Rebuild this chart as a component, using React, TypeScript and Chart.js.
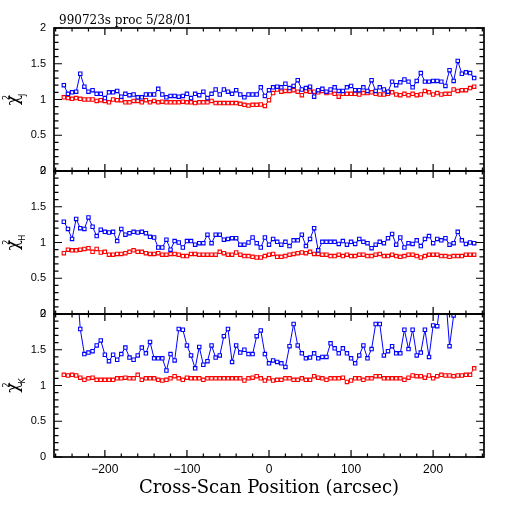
import React, { useEffect, useRef } from "react";
import { Chart, registerables } from "chart.js";
Chart.register(...registerables);

const xPositions = [
  -250, -245, -240, -235, -230, -225, -220, -215, -210, -205,
  -200, -195, -190, -185, -180, -175, -170, -165, -160, -155,
  -150, -145, -140, -135, -130, -125, -120, -115, -110, -105,
  -100, -95, -90, -85, -80, -75, -70, -65, -60, -55,
  -50, -45, -40, -35, -30, -25, -20, -15, -10, -5,
  0, 5, 10, 15, 20, 25, 30, 35, 40, 45,
  50, 55, 60, 65, 70, 75, 80, 85, 90, 95,
  100, 105, 110, 115, 120, 125, 130, 135, 140, 145,
  150, 155, 160, 165, 170, 175, 180, 185, 190, 195,
  200, 205, 210, 215, 220, 225, 230, 235, 240, 245,
  250,
];

const jBlue = [
  1.20, 1.08, 1.10, 1.11, 1.36, 1.18, 1.11, 1.13, 1.08, 1.08,
  1.02, 1.10, 1.10, 1.12, 1.04, 1.08, 1.06, 1.07, 1.03, 1.03,
  1.07, 1.07, 1.07, 1.15, 1.07, 1.03, 1.05, 1.05, 1.04, 1.05,
  1.08, 1.02, 1.08, 1.06, 1.11, 1.02, 1.08, 1.14, 1.07, 1.14,
  1.11, 1.08, 1.13, 1.07, 1.03, 1.07, 1.07, 1.07, 1.17, 1.05,
  1.13, 1.17, 1.18, 1.17, 1.22, 1.16, 1.19, 1.27, 1.14, 1.16,
  1.18, 1.04, 1.13, 1.15, 1.11, 1.14, 1.17, 1.12, 1.12, 1.17,
  1.19, 1.13, 1.13, 1.17, 1.12, 1.27, 1.12, 1.17, 1.14, 1.11,
  1.25, 1.20, 1.24, 1.28, 1.25, 1.17, 1.26, 1.37, 1.25, 1.25,
  1.26, 1.26, 1.25, 1.19, 1.41, 1.26, 1.54, 1.36, 1.38, 1.37,
  1.30,
];
const jRed = [
  1.03, 1.02, 1.01, 1.02, 1.01, 1.00, 1.00, 1.00, 0.98, 0.99,
  0.98, 0.96, 1.00, 0.99, 0.99, 0.96, 0.96, 0.98, 0.98, 0.96,
  0.99, 0.96, 0.98, 0.96, 0.97, 0.96, 0.96, 0.96, 0.96, 0.97,
  0.96, 0.96, 0.95, 0.96, 0.96, 0.96, 0.98, 0.95, 0.95, 0.95,
  0.95, 0.95, 0.95, 0.94, 0.925, 0.915, 0.925, 0.925, 0.93, 0.91,
  0.99, 1.09, 1.14, 1.11, 1.12, 1.12, 1.13, 1.11, 1.06, 1.12,
  1.11, 1.11, 1.10, 1.12, 1.09, 1.10, 1.08, 1.04, 1.08, 1.08,
  1.08, 1.08, 1.07, 1.09, 1.09, 1.10, 1.08, 1.07, 1.07, 1.08,
  1.10, 1.07, 1.06, 1.08, 1.06, 1.08, 1.06, 1.07, 1.12, 1.10,
  1.07, 1.09, 1.07, 1.08, 1.08, 1.14, 1.12, 1.13, 1.13, 1.16,
  1.18,
];
const hBlue = [
  1.29, 1.19, 1.05, 1.33, 1.20, 1.19, 1.35, 1.22, 1.09, 1.18,
  1.15, 1.14, 1.15, 1.02, 1.19, 1.11, 1.13, 1.15, 1.14, 1.15,
  1.13, 1.08, 1.07, 0.93, 0.93, 1.04, 0.90, 1.02, 1.00, 0.93,
  1.02, 1.02, 0.97, 0.99, 0.99, 1.11, 0.99, 1.11, 1.11, 1.04,
  1.05, 1.06, 1.06, 0.97, 0.97, 1.00, 1.07, 0.99, 0.93, 1.07,
  0.97, 1.05, 1.01, 0.97, 1.01, 0.95, 1.03, 1.03, 1.11, 0.95,
  1.05, 1.20, 0.89, 1.01, 1.01, 1.01, 1.01, 0.98, 1.02, 0.97,
  1.01, 0.98, 1.05, 1.01, 0.99, 0.92, 0.97, 1.01, 0.99, 1.06,
  1.12, 0.97, 1.07, 0.93, 0.99, 0.98, 1.03, 0.95, 1.05, 1.09,
  0.99, 1.05, 1.03, 1.06, 0.97, 0.99, 1.15, 1.03, 0.98, 1.00,
  0.99,
];
const hRed = [
  0.85, 0.90, 0.89, 0.89, 0.90, 0.91, 0.92, 0.87, 0.91, 0.86,
  0.87, 0.83, 0.83, 0.84, 0.84, 0.85, 0.87, 0.89, 0.87, 0.87,
  0.85, 0.84, 0.84, 0.85, 0.83, 0.83, 0.84, 0.84, 0.83, 0.81,
  0.81, 0.84, 0.84, 0.83, 0.83, 0.83, 0.83, 0.83, 0.87, 0.85,
  0.83, 0.83, 0.86, 0.83, 0.81, 0.81, 0.80, 0.79, 0.79, 0.81,
  0.83, 0.84, 0.80, 0.80, 0.81, 0.83, 0.84, 0.85, 0.86, 0.85,
  0.87, 0.84, 0.84, 0.83, 0.83, 0.81, 0.81, 0.83, 0.81, 0.83,
  0.81, 0.81, 0.83, 0.83, 0.81, 0.81, 0.83, 0.84, 0.81, 0.81,
  0.83, 0.81, 0.80, 0.81, 0.83, 0.83, 0.81, 0.79, 0.81, 0.83,
  0.83, 0.83, 0.81, 0.81, 0.80, 0.81, 0.81, 0.81, 0.83, 0.83,
  0.83,
];
const kBlue = [
  2.4, 2.5, 2.3, 2.6, 1.79, 1.44, 1.46, 1.48, 1.56, 1.63,
  1.43, 1.34, 1.43, 1.36, 1.44, 1.53, 1.39, 1.36, 1.42, 1.53,
  1.45, 1.61, 1.38, 1.38, 1.38, 1.21, 1.44, 1.35, 1.79, 1.78,
  1.56, 1.42, 1.24, 1.54, 1.29, 1.34, 1.56, 1.39, 1.42, 1.69,
  1.79, 1.33, 1.56, 1.46, 1.50, 1.44, 1.44, 1.69, 1.77, 1.44,
  1.31, 1.35, 1.33, 1.31, 1.26, 1.55, 1.86, 1.56, 1.45, 1.38,
  1.39, 1.45, 1.38, 1.40, 1.40, 1.59, 1.52, 1.45, 1.52, 1.45,
  1.38, 1.31, 1.42, 1.56, 1.38, 1.51, 1.86, 1.86, 1.42, 1.48,
  1.55, 1.45, 1.45, 1.78, 1.51, 1.78, 1.42, 1.46, 1.78, 1.40,
  1.84, 1.83, 2.3, 2.3, 1.55, 1.98, 2.3, 2.2, 2.4, 2.5,
  2.3,
];
const kRed = [
  1.15, 1.14, 1.15, 1.14, 1.11, 1.08, 1.10, 1.11, 1.08, 1.08,
  1.08, 1.08, 1.08, 1.10, 1.10, 1.11, 1.10, 1.10, 1.15, 1.08,
  1.10, 1.10, 1.10, 1.08, 1.07, 1.08, 1.10, 1.13, 1.10, 1.08,
  1.11, 1.10, 1.10, 1.10, 1.08, 1.10, 1.10, 1.10, 1.10, 1.10,
  1.10, 1.10, 1.10, 1.10, 1.07, 1.10, 1.11, 1.13, 1.10, 1.07,
  1.10, 1.07, 1.08, 1.08, 1.10, 1.10, 1.08, 1.08, 1.10, 1.08,
  1.08, 1.13, 1.11, 1.10, 1.08, 1.10, 1.10, 1.10, 1.11, 1.05,
  1.07, 1.10, 1.10, 1.08, 1.10, 1.10, 1.13, 1.13, 1.10, 1.10,
  1.10, 1.10, 1.10, 1.08, 1.11, 1.14, 1.13, 1.13, 1.11, 1.14,
  1.10, 1.13, 1.15, 1.14, 1.14, 1.13, 1.14, 1.14, 1.15, 1.15,
  1.24,
];

const xMajorTicks = [-200, -100, 0, 100, 200];
const xMinorTicks = [-260, -240, -220, -180, -160, -140, -120, -80, -60, -40, -20, 20, 40, 60, 80, 120, 140, 160, 180, 220, 240, 260];
const yMajorTicks = [0, 0.5, 1, 1.5, 2];
const yMinorTicks = [0.1, 0.2, 0.3, 0.4, 0.6, 0.7, 0.8, 0.9, 1.1, 1.2, 1.3, 1.4, 1.6, 1.7, 1.8, 1.9];
const panelIds = ["yJ", "yH", "yK"];
const panelBands = ["J", "H", "K"];
const chartTitle = "990723s proc 5/28/01";
const xTitle = "Cross-Scan Position (arcsec)";

const BLUE = "#0000ff";
const RED = "#ff0000";

const framePlugin = {
  id: "frames",
  afterDatasetsDraw(chart: any) {
    const { ctx, chartArea } = chart;
    const xs = chart.scales.x;
    const left = chartArea.left;
    const right = chartArea.right;
    ctx.save();
    ctx.strokeStyle = "#000";
    panelIds.forEach((id) => {
      const ys = chart.scales[id];
      const top = ys.top;
      const bottom = ys.bottom;
      ctx.lineWidth = 1.2;
      ctx.beginPath();
      const xt = (v: number, len: number) => {
        const px = xs.getPixelForValue(v);
        ctx.moveTo(px, bottom);
        ctx.lineTo(px, bottom - len);
        ctx.moveTo(px, top);
        ctx.lineTo(px, top + len);
      };
      xMajorTicks.forEach((v) => xt(v, 7));
      xMinorTicks.forEach((v) => xt(v, 3.5));
      const yt = (v: number, len: number) => {
        const py = ys.getPixelForValue(v);
        ctx.moveTo(left, py);
        ctx.lineTo(left + len, py);
        ctx.moveTo(right, py);
        ctx.lineTo(right - len, py);
      };
      yMajorTicks.forEach((v) => yt(v, 8));
      yMinorTicks.forEach((v) => yt(v, 4.5));
      ctx.stroke();
      ctx.lineWidth = 1.7;
      ctx.strokeRect(left, top, right - left, bottom - top);
    });
    ctx.restore();
  },
  afterDraw(chart: any) {
    const { ctx, chartArea } = chart;
    ctx.save();
    ctx.fillStyle = "#000";
    ctx.font = '12px "DejaVu Serif"';
    ctx.textBaseline = "alphabetic";
    ctx.textAlign = "left";
    ctx.fillText(chartTitle, chartArea.left + 5, chartArea.top - 4);
    panelIds.forEach((id, i) => {
      const ys = chart.scales[id];
      const cy = (ys.top + ys.bottom) / 2;
      const cx = 13.5;
      ctx.save();
      ctx.translate(cx, cy);
      ctx.rotate(-Math.PI / 2);
      const big = '17px "DejaVu Serif"';
      const small = '8px "DejaVu Sans"';
      ctx.font = big;
      const wChi = ctx.measureText("\u03c7").width;
      ctx.font = small;
      const wSub = ctx.measureText(panelBands[i]).width;
      const total = wChi - 1 + wSub;
      const x0 = -total / 2;
      ctx.textAlign = "left";
      ctx.font = big;
      ctx.fillText("\u03c7", x0, 4);
      ctx.font = small;
      ctx.fillText("2", x0 + wChi - 5, -5);
      ctx.fillText(panelBands[i], x0 + wChi - 1, 11);
      ctx.restore();
    });
    ctx.restore();
  },
};

const fmtX = (v: number) => (v < 0 ? "\u2212" + Math.abs(v) : String(v));

function yScale() {
  return {
    type: "linear",
    position: "left",
    stack: "panels",
    stackWeight: 1,
    offset: false,
    min: 0,
    max: 2,
    afterBuildTicks: (s: any) => {
      s.ticks = yMajorTicks.map((v) => ({ value: v }));
    },
    afterFit: (s: any) => {
      s.width = 54;
    },
    ticks: {
      color: "#000",
      font: { family: "Liberation Sans", size: 11 },
      padding: 8,
      autoSkip: false,
      callback: (v: number) => String(v),
    },
    grid: { display: false, drawTicks: false },
    border: { display: false },
  };
}

function series(values: number[], color: string, yAxisID: string) {
  return {
    type: "line",
    data: xPositions.map((x, i) => ({ x, y: values[i] })),
    yAxisID,
    xAxisID: "x",
    borderColor: color,
    borderWidth: 1,
    pointRadius: 2.4,
    pointBorderWidth: 1.1,
    pointBorderColor: color,
    pointBackgroundColor: "#ffffff",
    pointStyle: "rect",
    tension: 0,
    fill: false,
  };
}

export default function App() {
  const ref = useRef<HTMLCanvasElement | null>(null);
  useEffect(() => {
    if (!ref.current) return;
    const chart = new Chart(ref.current, {
      type: "line",
      data: {
        datasets: [
          series(jBlue, BLUE, "yJ"),
          series(jRed, RED, "yJ"),
          series(hBlue, BLUE, "yH"),
          series(hRed, RED, "yH"),
          series(kBlue, BLUE, "yK"),
          series(kRed, RED, "yK"),
        ] as any,
      },
      options: {
        responsive: false,
        animation: false,
        layout: { padding: { left: 0, top: 28, right: 28, bottom: 0 } },
        plugins: { legend: { display: false }, tooltip: { enabled: false }, title: { display: false } },
        scales: {
          x: {
            type: "linear",
            position: "bottom",
            min: -262,
            max: 262,
            afterBuildTicks: (s: any) => {
              s.ticks = xMajorTicks.map((v) => ({ value: v }));
            },
            afterFit: (s: any) => {
              s.height = 55;
            },
            ticks: {
              color: "#000",
              font: { family: "Liberation Sans", size: 12 },
              padding: 5,
              maxRotation: 0,
              autoSkip: false,
              callback: (v: number) => fmtX(v),
            },
            grid: { display: false, drawTicks: false },
            border: { display: false },
            title: {
              display: true,
              text: xTitle,
              color: "#000",
              font: { family: "DejaVu Serif", size: 18 },
              padding: { top: 0, bottom: 13 },
            },
          },
          yK: yScale(),
          yH: yScale(),
          yJ: yScale(),
        } as any,
      },
      plugins: [framePlugin],
    });
    return () => chart.destroy();
  }, []);
  return (
    <div style={{ position: "fixed", left: 0, top: 0, width: 512, height: 512, background: "#fff" }}>
      <canvas ref={ref} width={512} height={512} style={{ display: "block" }} />
    </div>
  );
}
